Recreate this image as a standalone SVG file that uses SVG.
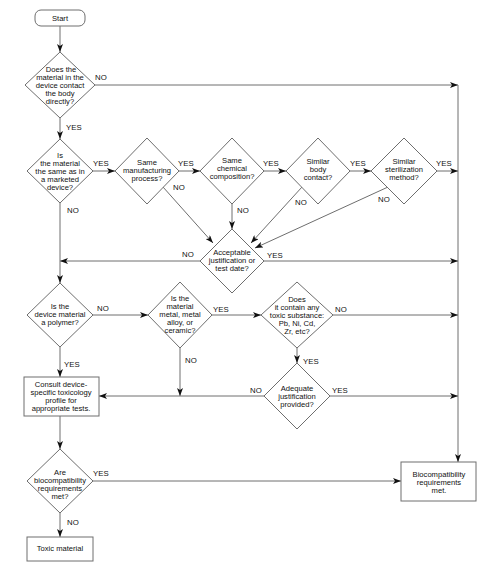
<svg xmlns="http://www.w3.org/2000/svg" width="500" height="571" viewBox="0 0 500 571">
<defs>
<marker id="ah" viewBox="0 0 8 6" refX="8" refY="3" markerWidth="8" markerHeight="6" markerUnits="userSpaceOnUse" orient="auto">
<path d="M0,0 L8,3 L0,6 L2,3 z" fill="#111"/>
</marker>
<style>
.s{fill:#fff;stroke:#6e6e6e;stroke-width:1}
.c{fill:none;stroke:#6e6e6e;stroke-width:1;marker-end:url(#ah)}
text{font-family:"Liberation Sans",Arial,sans-serif;fill:#111}
.t{font-size:7.6px;text-anchor:middle}
.lb{font-size:7.8px}
</style>
</defs>
<rect width="500" height="571" fill="#fff"/>
<g id="connectors">
<path class="c" d="M60,26 V52"/>
<path class="c" d="M95,85 H458"/>
<path class="c" d="M458,85 V462"/>
<path class="c" d="M60,118 V139"/>
<path class="c" d="M93,171 H115"/>
<path class="c" d="M179,171 H200"/>
<path class="c" d="M264,171 H286"/>
<path class="c" d="M350,171 H371"/>
<path class="c" d="M437,171 H458"/>
<path class="c" d="M163,187 L213,243"/>
<path class="c" d="M232,204 V229"/>
<path class="c" d="M302,187 L251,243"/>
<path class="c" d="M388,187 L255,248"/>
<path class="c" d="M200,261 H60"/>
<path class="c" d="M264,261 H458"/>
<path class="c" d="M60,203 V283"/>
<path class="c" d="M93,315 H148"/>
<path class="c" d="M212,315 H261"/>
<path class="c" d="M333,315 H458"/>
<path class="c" d="M180,348 V396"/>
<path class="c" d="M297,348 V363"/>
<path class="c" d="M264,396 H99"/>
<path class="c" d="M330,396 H458"/>
<path class="c" d="M60,347 V377"/>
<path class="c" d="M60,416 V449"/>
<path class="c" d="M93,481 H401"/>
<path class="c" d="M60,513 V537"/>
</g>
<g id="labels">
<text class="lb" x="95" y="80">NO</text>
<text class="lb" x="66" y="130">YES</text>
<text class="lb" x="93" y="166">YES</text>
<text class="lb" x="178" y="166">YES</text>
<text class="lb" x="173" y="190">NO</text>
<text class="lb" x="263" y="166">YES</text>
<text class="lb" x="237" y="213">NO</text>
<text class="lb" x="350" y="166">YES</text>
<text class="lb" x="295" y="205">NO</text>
<text class="lb" x="436" y="166">YES</text>
<text class="lb" x="378" y="202">NO</text>
<text class="lb" x="182" y="257">NO</text>
<text class="lb" x="267" y="258">YES</text>
<text class="lb" x="67" y="213">NO</text>
<text class="lb" x="97" y="311">NO</text>
<text class="lb" x="213" y="312">YES</text>
<text class="lb" x="185" y="363">NO</text>
<text class="lb" x="64" y="367">YES</text>
<text class="lb" x="335" y="312">NO</text>
<text class="lb" x="303" y="364">YES</text>
<text class="lb" x="250" y="393">NO</text>
<text class="lb" x="332" y="393">YES</text>
<text class="lb" x="93" y="476">YES</text>
<text class="lb" x="67" y="525">NO</text>
</g>
<g id="start">
<rect class="s" x="35" y="10" width="50" height="16" rx="6"/>
<text class="t" x="60" y="21">Start</text>
</g>
<g id="d1">
<polygon class="s" points="60,52 95,85 60,118 25,85"/>
<text class="t" x="61" y="72">Does the</text>
<text class="t" x="60" y="80">material in  the</text>
<text class="t" x="60" y="88">device contact</text>
<text class="t" x="60" y="96">the body</text>
<text class="t" x="60" y="104">directly?</text>
</g>
<g id="d2">
<polygon class="s" points="60,139 93,171 60,203 27,171"/>
<text class="t" x="60" y="158">Is</text>
<text class="t" x="60" y="166">the material</text>
<text class="t" x="60" y="174">the same as in</text>
<text class="t" x="60" y="182">a marketed</text>
<text class="t" x="60" y="190">device?</text>
</g>
<g id="d3">
<polygon class="s" points="147,138 179,171 147,204 115,171"/>
<text class="t" x="147" y="165">Same</text>
<text class="t" x="147" y="173">manufacturing</text>
<text class="t" x="147" y="181">process?</text>
</g>
<g id="d4">
<polygon class="s" points="232,138 264,171 232,204 200,171"/>
<text class="t" x="232" y="163">Same</text>
<text class="t" x="232" y="171">chemical</text>
<text class="t" x="232" y="179">composition?</text>
</g>
<g id="d5">
<polygon class="s" points="318,138 350,171 318,204 286,171"/>
<text class="t" x="318" y="164">Similar</text>
<text class="t" x="318" y="172">body</text>
<text class="t" x="318" y="180">contact?</text>
</g>
<g id="d6">
<polygon class="s" points="404,138 437,171 404,204 371,171"/>
<text class="t" x="404" y="164">Similar</text>
<text class="t" x="404" y="172">sterilization</text>
<text class="t" x="404" y="180">method?</text>
</g>
<g id="acc">
<polygon class="s" points="232,229 264,261 232,293 200,261"/>
<text class="t" x="232" y="255">Acceptable</text>
<text class="t" x="232" y="263">justification or</text>
<text class="t" x="232" y="271">test date?</text>
</g>
<g id="d7">
<polygon class="s" points="60,283 93,315 60,347 27,315"/>
<text class="t" x="60" y="309">Is the</text>
<text class="t" x="60" y="317">device material</text>
<text class="t" x="60" y="325">a polymer?</text>
</g>
<g id="d8">
<polygon class="s" points="180,282 212,315 180,348 148,315"/>
<text class="t" x="180" y="301">Is the</text>
<text class="t" x="180" y="309">material</text>
<text class="t" x="180" y="317">metal, metal</text>
<text class="t" x="180" y="325">alloy, or</text>
<text class="t" x="180" y="333">ceramic?</text>
</g>
<g id="d9">
<polygon class="s" points="297,282 333,315 297,348 261,315"/>
<text class="t" x="297" y="302">Does</text>
<text class="t" x="297" y="310">it contain any</text>
<text class="t" x="297" y="318">toxic substance:</text>
<text class="t" x="297" y="326">Pb, Ni, Cd,</text>
<text class="t" x="297" y="334">Zr, etc?</text>
</g>
<g id="d10">
<polygon class="s" points="297,363 330,396 297,429 264,396"/>
<text class="t" x="297" y="391">Adequate</text>
<text class="t" x="297" y="399">justification</text>
<text class="t" x="297" y="407">provided?</text>
</g>
<g id="consult">
<rect class="s" x="24" y="377" width="75" height="39"/>
<text class="t" x="61" y="387">Consult device-</text>
<text class="t" x="61" y="395">specific toxicology</text>
<text class="t" x="61" y="403">profile for</text>
<text class="t" x="61" y="411">appropriate tests.</text>
</g>
<g id="d11">
<polygon class="s" points="60,449 93,481 60,513 27,481"/>
<text class="t" x="60" y="475">Are</text>
<text class="t" x="60" y="483">biocompatibility</text>
<text class="t" x="60" y="491">requirements</text>
<text class="t" x="60" y="499">met?</text>
</g>
<g id="toxic">
<rect class="s" x="27" y="537" width="66" height="24"/>
<text class="t" x="60" y="551">Toxic material</text>
</g>
<g id="bio">
<rect class="s" x="401" y="462" width="75" height="39"/>
<text class="t" x="439" y="477">Biocompatibility</text>
<text class="t" x="439" y="485">requirements</text>
<text class="t" x="439" y="493">met.</text>
</g>
</svg>
